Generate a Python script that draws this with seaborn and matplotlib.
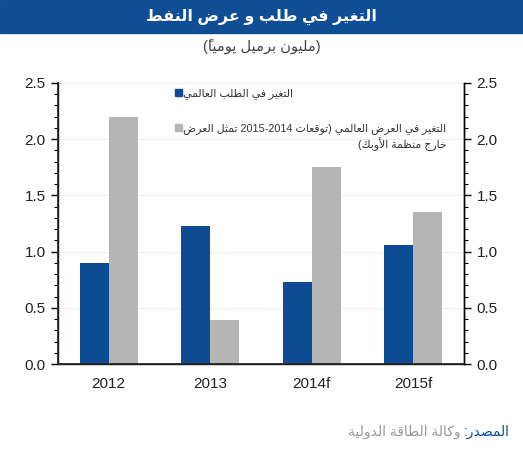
import re
import numpy as np
import pandas as pd
import matplotlib
matplotlib.use('Agg')
import matplotlib.pyplot as plt
from matplotlib.patches import Rectangle
import seaborn as sns

# data
years = ['2012', '2013', '2014f', '2015f']
demand_change = [0.90, 1.23, 0.73, 1.06]
supply_change = [2.20, 0.39, 1.75, 1.35]
y_ticks = [0.0, 0.5, 1.0, 1.5, 2.0, 2.5]

title_ar = 'التغير في طلب و عرض النفط'
subtitle_ar = '(مليون برميل يومياً)'
demand_label = 'التغير في الطلب العالمي'
supply_label = 'التغير في العرض العالمي (توقعات 2014-2015 تمثل العرض\nخارج منظمة الأوبك)'
source_head = 'المصدر:'
source_body = ' وكالة الطاقة الدولية'

BLUE = '#0d4c93'
GRAY = '#b5b5b5'
BAND = '#0f4d95'

# matplotlib has no arabic shaping, so pick presentation forms by hand
_forms = {
    'ا': (0xFE8D, 2), 'أ': (0xFE83, 2), 'ب': (0xFE8F, 4), 'ة': (0xFE93, 2),
    'ت': (0xFE95, 4), 'ث': (0xFE99, 4), 'ج': (0xFE9D, 4), 'ح': (0xFEA1, 4),
    'خ': (0xFEA5, 4), 'د': (0xFEA9, 2), 'ذ': (0xFEAB, 2), 'ر': (0xFEAD, 2),
    'ز': (0xFEAF, 2), 'س': (0xFEB1, 4), 'ش': (0xFEB5, 4), 'ص': (0xFEB9, 4),
    'ض': (0xFEBD, 4), 'ط': (0xFEC1, 4), 'ظ': (0xFEC5, 4), 'ع': (0xFEC9, 4),
    'غ': (0xFECD, 4), 'ف': (0xFED1, 4), 'ق': (0xFED5, 4), 'ك': (0xFED9, 4),
    'ل': (0xFEDD, 4), 'م': (0xFEE1, 4), 'ن': (0xFEE5, 4), 'ه': (0xFEE9, 4),
    'و': (0xFEED, 2), 'ى': (0xFEEF, 2), 'ي': (0xFEF1, 4),
    'لا': (0xFEFB, 2), 'لأ': (0xFEF7, 2),
}


def shape_line(text):
    units = []
    i = 0
    while i < len(text):
        c = text[i]
        if '\u064b' <= c <= '\u0652' and units:
            units[-1][1] += c
        elif c == 'ل' and i + 1 < len(text) and text[i + 1] in 'اأ':
            units.append([c + text[i + 1], ''])
            i += 1
        else:
            units.append([c, ''])
        i += 1
    out = []
    for k, (base, marks) in enumerate(units):
        if base in _forms:
            start, n = _forms[base]
            prev = units[k - 1][0] if k > 0 else ''
            nxt = units[k + 1][0] if k + 1 < len(units) else ''
            jp = _forms.get(prev, (0, 2))[1] == 4
            jn = n == 4 and nxt in _forms
            idx = {(False, False): 0, (True, False): 1,
                   (False, True): 2, (True, True): 3}[(jp, jn)]
            base = chr(start + idx)
        # marks go before their base so they land on it when drawn ltr
        out.append(marks + base)
    vis = ''.join(reversed(out))
    vis = vis.translate(str.maketrans('()', ')('))
    vis = re.sub(r'\d+', lambda m: m.group()[::-1], vis)
    return vis


def ar(text):
    return '\n'.join(shape_line(t) for t in text.split('\n'))


sns.set_theme(style='white')
plt.rcParams['font.family'] = ['Liberation Sans', 'DejaVu Sans']

df = pd.DataFrame({
    'year': years * 2,
    'value': demand_change + supply_change,
    'series': ['demand'] * len(years) + ['supply'] * len(years),
})

fig = plt.figure(figsize=(5.23, 4.50), dpi=100)
ax = fig.add_axes([58 / 523, 1 - 364 / 450, 406 / 523, 281 / 450])

sns.barplot(data=df, x='year', y='value', hue='series', palette=[BLUE, GRAY],
            width=0.575, saturation=1, linewidth=0, ax=ax, legend=False)

ax.set_ylim(0, 2.5)
ax.set_yticks(y_ticks)
ax.set_yticks(np.arange(0, 2.51, 0.1), minor=True)
ax.set_yticklabels([f'{v:.1f}' for v in y_ticks])
ax.set_xlabel('')
ax.set_ylabel('')
ax.set_xticks(np.arange(len(years) + 1) - 0.5, minor=True)
ax.tick_params(axis='x', which='major', length=0, pad=9, labelsize=11, labelcolor='#222222')
ax.tick_params(axis='x', which='minor', length=4, width=1, color='black', direction='out')
ax.tick_params(axis='y', which='major', length=5, width=1, color='black', direction='out',
               labelsize=11, labelcolor='#222222', pad=4)
ax.tick_params(axis='y', which='minor', length=3, width=0.8, color='black', direction='out')
for y in y_ticks[1:]:
    ax.axhline(y, color='#ededed', lw=0.8, zorder=0)
ax.set_axisbelow(True)
ax.spines['top'].set_visible(False)
for s in ['left', 'bottom', 'right']:
    ax.spines[s].set_color('black')
    ax.spines[s].set_linewidth(1)

ax2 = ax.twinx()
ax2.set_ylim(0, 2.5)
ax2.set_yticks(y_ticks)
ax2.set_yticks(np.arange(0, 2.51, 0.1), minor=True)
ax2.set_yticklabels([f'{v:.1f}' for v in y_ticks])
ax2.tick_params(axis='y', which='major', length=5, width=1, color='black', direction='out',
                labelsize=11, labelcolor='#222222', pad=4)
ax2.tick_params(axis='y', which='minor', length=3, width=0.8, color='black', direction='out')
ax2.spines['top'].set_visible(False)
ax2.spines['right'].set_color('black')
ax2.spines['right'].set_linewidth(1)
ax2.grid(False)

# legend drawn by hand: square on the left, rtl text to the right
leg_x = (175 - 58) / 406
for label, color, ytop in [(demand_label, BLUE, 88), (supply_label, GRAY, 123)]:
    yy = (364 - ytop) / 281
    ax.add_patch(Rectangle((leg_x, yy - 8 / 281), 7 / 406, 7 / 281, transform=ax.transAxes,
                           color=color, clip_on=False))
    ax.text(leg_x + 8 / 406, yy, ar(label), transform=ax.transAxes, ha='left', va='top',
            multialignment='right', fontsize=7.8, color='#333333', linespacing=1.3)

# title band
fig.patches.append(Rectangle((0, 1 - 33 / 450), 1, 33 / 450, transform=fig.transFigure,
                             color=BAND, zorder=0))
fig.text(0.5, 1 - 17 / 450, ar(title_ar), ha='center', va='center', color='white',
         fontsize=11.5, fontweight='bold')
fig.text(0.5, 1 - 46 / 450, ar(subtitle_ar), ha='center', va='center', color='#444444',
         fontsize=10.5)

head = fig.text(510 / 523, 1 - 432 / 450, ar(source_head), ha='right', va='center',
                color=BLUE, fontsize=10)
ax.annotate(ar(source_body), xy=(0, 0.5), xycoords=head, ha='right', va='center',
            color='#999999', fontsize=10, annotation_clip=False)

fig.savefig('out.png', dpi=100)
